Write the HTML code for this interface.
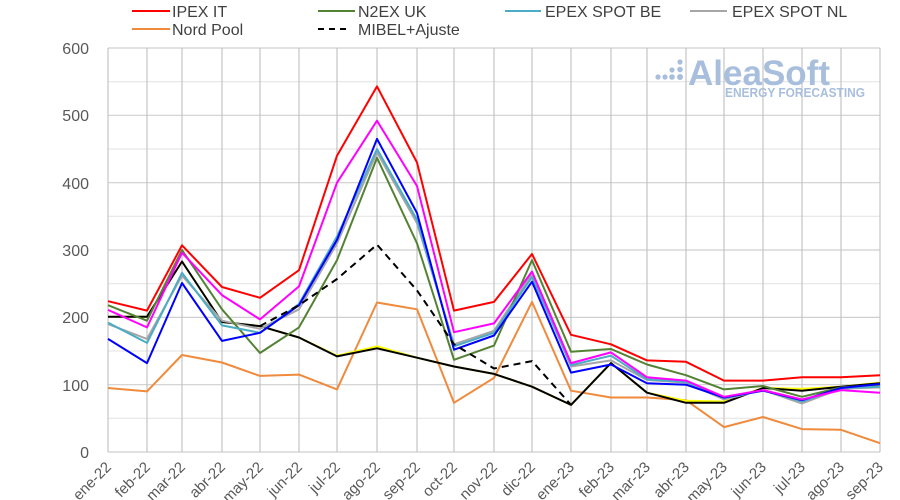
<!DOCTYPE html>
<html><head><meta charset="utf-8"><style>
html,body{margin:0;padding:0;background:#fff;}
svg{display:block;font-family:"Liberation Sans",sans-serif;}
</style></head><body>
<svg width="900" height="500" viewBox="0 0 900 500">
<g stroke-width="1.2">
<g stroke="#e6e6e6">
<line x1="108" x2="880" y1="418.3" y2="418.3"/><line x1="108" x2="880" y1="351" y2="351"/><line x1="108" x2="880" y1="283.7" y2="283.7"/><line x1="108" x2="880" y1="216.3" y2="216.3"/><line x1="108" x2="880" y1="149" y2="149"/><line x1="108" x2="880" y1="81.7" y2="81.7"/>
</g>
<g stroke="#cfcfcf">
<line x1="108" x2="880" y1="452" y2="452"/><line x1="108" x2="880" y1="384.7" y2="384.7"/><line x1="108" x2="880" y1="317.4" y2="317.4"/><line x1="108" x2="880" y1="250" y2="250"/><line x1="108" x2="880" y1="182.7" y2="182.7"/><line x1="108" x2="880" y1="115.3" y2="115.3"/><line x1="108" x2="880" y1="48" y2="48"/>
</g>
<g stroke="#c4c4c4">
<line x1="108" x2="108" y1="48" y2="452"/><line x1="147" x2="147" y1="48" y2="452"/><line x1="182" x2="182" y1="48" y2="452"/><line x1="222" x2="222" y1="48" y2="452"/><line x1="260" x2="260" y1="48" y2="452"/><line x1="299" x2="299" y1="48" y2="452"/><line x1="337" x2="337" y1="48" y2="452"/><line x1="377" x2="377" y1="48" y2="452"/><line x1="417" x2="417" y1="48" y2="452"/><line x1="454" x2="454" y1="48" y2="452"/><line x1="494" x2="494" y1="48" y2="452"/><line x1="532" x2="532" y1="48" y2="452"/><line x1="571" x2="571" y1="48" y2="452"/><line x1="611" x2="611" y1="48" y2="452"/><line x1="647" x2="647" y1="48" y2="452"/><line x1="686" x2="686" y1="48" y2="452"/><line x1="724" x2="724" y1="48" y2="452"/><line x1="763" x2="763" y1="48" y2="452"/><line x1="802" x2="802" y1="48" y2="452"/><line x1="841" x2="841" y1="48" y2="452"/><line x1="880" x2="880" y1="48" y2="452"/>
</g>
</g>
<g fill="#a8bedd">
<circle cx="658" cy="77" r="2.6"/><circle cx="665" cy="77" r="2.6"/><circle cx="672" cy="77" r="2.8"/><circle cx="680" cy="77" r="3"/>
<circle cx="672" cy="70" r="2.6"/><circle cx="680" cy="69.5" r="2.8"/><circle cx="680" cy="62" r="2.6"/>
<text x="688" y="85" font-size="35" font-weight="bold" textLength="142" lengthAdjust="spacingAndGlyphs">AleaSoft</text>
<text x="725" y="97" font-size="12.5" font-weight="bold" textLength="140" lengthAdjust="spacingAndGlyphs">ENERGY FORECASTING</text>
</g>
<g fill="none" stroke-width="2" stroke-linejoin="round">
<polyline stroke="#f08a3c" points="108,388 147,391.4 182,355 222,362.5 260,375.9 299,374.6 337,389.4 377,302.5 417,309.3 454,402.8 494,377.9 532,301.9 571,390.7 611,397.5 647,397.5 686,400.2 724,427.1 763,417 802,429.1 841,429.8 880,443.2"/>
<polyline stroke="#ffff00" points="108,316.7 147,316.7 182,261.5 222,322 260,326.1 299,337.5 337,355.7 377,346.3 417,357.7 454,366.5 494,373.9 532,386.7 571,404.9 611,363.1 647,392.7 686,400.8 724,401.5 763,388 802,388.7 841,386.7 880,382.6"/>
<polyline stroke="#000000" points="108,316.7 147,316.7 182,261.5 222,322 260,326.1 299,337.5 337,356.4 377,348.3 417,357.7 454,366.5 494,373.9 532,386.7 571,404.9 611,363.1 647,392.7 686,402.8 724,402.8 763,388 802,390.7 841,386.7 880,383.3"/>
<polyline stroke="#a6a6a6" points="108,324.1 147,338.9 182,275.6 222,320.7 260,328.8 299,309.3 337,243.3 377,152.4 417,223.1 454,344.3 494,330.8 532,273.6 571,366.5 611,360.4 647,380 686,382.6 724,399.5 763,390.1 802,403.5 841,388.7 880,387.4"/>
<polyline stroke="#548235" points="108,305.2 147,320.7 182,250 222,309.3 260,353 299,327.4 337,260.1 377,157.8 417,243.3 454,359.8 494,345.6 532,260.1 571,351.7 611,349 647,364.5 686,375.2 724,389.4 763,386 802,396.8 841,387.4 880,384.7"/>
<polyline stroke="#4bacc6" points="108,322.7 147,342.9 182,272.9 222,325.4 260,332.8 299,303.9 337,236.5 377,149 417,219.7 454,346.3 494,332.8 532,276.9 571,365.1 611,355.7 647,379.3 686,382 724,398.1 763,390.1 802,401.5 841,388 880,386.7"/>
<polyline stroke="#0000ff" points="108,338.9 147,363.1 182,283 222,340.9 260,332.8 299,305.2 337,239.9 377,138.9 417,213 454,349.7 494,335.5 532,281.7 571,372.6 611,364.5 647,383.3 686,384.7 724,397.5 763,390.7 802,400.2 841,388 880,384"/>
<polyline stroke="#ff00ff" points="108,309.9 147,327.4 182,252.7 222,295.1 260,319.4 299,286.4 337,182.7 377,120.7 417,186 454,332.2 494,323.4 532,271.6 571,363.1 611,352.4 647,377.3 686,380.6 724,396.8 763,390.1 802,399.5 841,390.1 880,392.7"/>
<polyline stroke="#ff0000" points="108,301.2 147,310.6 182,245.3 222,287 260,297.8 299,270.2 337,155.7 377,86.4 417,162.5 454,310.6 494,301.9 532,254 571,334.8 611,344.3 647,360.4 686,361.8 724,380.6 763,380.6 802,377.3 841,377.3 880,375.2"/>
<polyline stroke="#000000" stroke-dasharray="7,5" points="260,326.1 299,305.2 337,279 377,244.6 417,290.4 454,344.3 494,368.5 532,361.1 571,404.9"/>
</g>
<g font-size="16" fill="#595959" text-anchor="end">
<text x="89" y="54">600</text><text x="89" y="121">500</text><text x="89" y="189">400</text>
<text x="89" y="256">300</text><text x="89" y="323">200</text><text x="89" y="391">100</text><text x="89" y="458">0</text>
</g>
<g font-size="15" fill="#595959" text-anchor="end">
<text transform="translate(112,468) rotate(-45)">ene-22</text>
<text transform="translate(151,468) rotate(-45)">feb-22</text>
<text transform="translate(186,468) rotate(-45)">mar-22</text>
<text transform="translate(226,468) rotate(-45)">abr-22</text>
<text transform="translate(264,468) rotate(-45)">may-22</text>
<text transform="translate(303,468) rotate(-45)">jun-22</text>
<text transform="translate(341,468) rotate(-45)">jul-22</text>
<text transform="translate(381,468) rotate(-45)">ago-22</text>
<text transform="translate(421,468) rotate(-45)">sep-22</text>
<text transform="translate(458,468) rotate(-45)">oct-22</text>
<text transform="translate(498,468) rotate(-45)">nov-22</text>
<text transform="translate(536,468) rotate(-45)">dic-22</text>
<text transform="translate(575,468) rotate(-45)">ene-23</text>
<text transform="translate(615,468) rotate(-45)">feb-23</text>
<text transform="translate(651,468) rotate(-45)">mar-23</text>
<text transform="translate(690,468) rotate(-45)">abr-23</text>
<text transform="translate(728,468) rotate(-45)">may-23</text>
<text transform="translate(767,468) rotate(-45)">jun-23</text>
<text transform="translate(806,468) rotate(-45)">jul-23</text>
<text transform="translate(845,468) rotate(-45)">ago-23</text>
<text transform="translate(884,468) rotate(-45)">sep-23</text>
</g>
<g font-size="16" fill="#404040">
<line x1="132" y1="11" x2="170" y2="11" stroke="#ff0000" stroke-width="2"/><text x="172" y="17">IPEX IT</text>
<line x1="318" y1="11" x2="355" y2="11" stroke="#548235" stroke-width="2"/><text x="358" y="17">N2EX UK</text>
<line x1="505" y1="11" x2="541" y2="11" stroke="#4bacc6" stroke-width="2"/><text x="545" y="17">EPEX SPOT BE</text>
<line x1="690" y1="11" x2="727" y2="11" stroke="#a6a6a6" stroke-width="2"/><text x="732" y="17">EPEX SPOT NL</text>
<line x1="132" y1="29" x2="170" y2="29" stroke="#f08a3c" stroke-width="2"/><text x="172" y="35">Nord Pool</text>
<line x1="318" y1="29" x2="350" y2="29" stroke="#000" stroke-width="2" stroke-dasharray="6,5"/><text x="358" y="35">MIBEL+Ajuste</text>
</g>
</svg>
</body></html>
